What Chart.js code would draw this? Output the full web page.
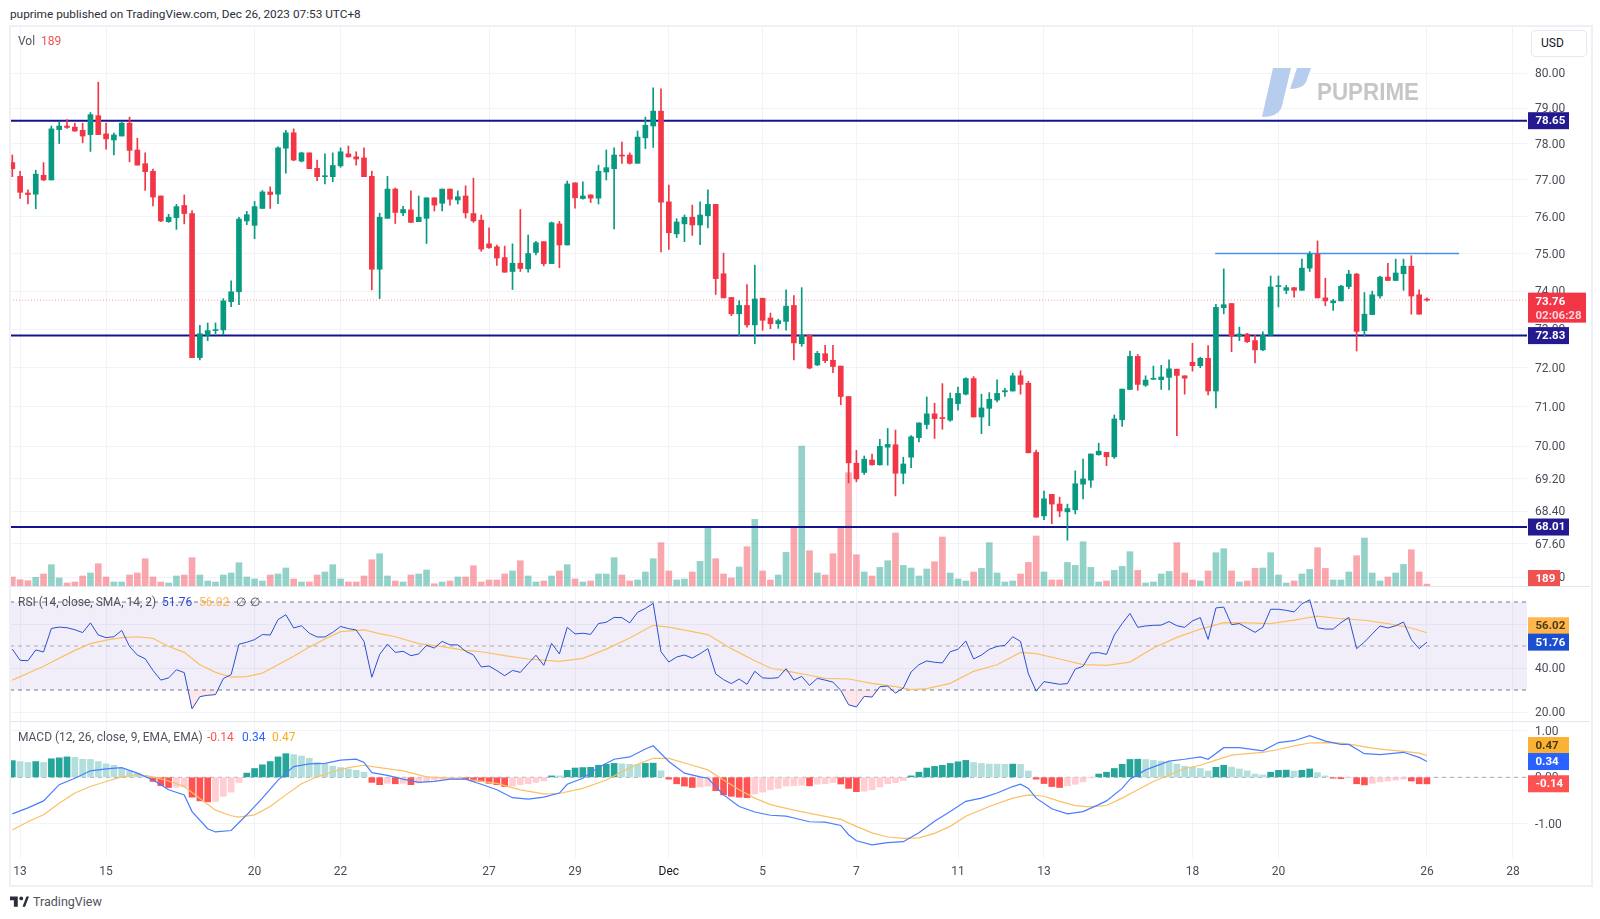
<!DOCTYPE html>
<html lang="en">
<head>
<meta charset="UTF-8">
<title>puprime chart</title>
<script src="https://cdn.jsdelivr.net/npm/chart.js@4.4.0/dist/chart.umd.min.js"></script>
<style>
  html, body { margin: 0; padding: 0; background: #fff; width: 1600px; height: 919px; overflow: hidden; font-family: Roboto, sans-serif; }
  .pane { position: absolute; left: 10px; width: 1580px; }
  .abs { position: absolute; white-space: pre; font-size: 12px; line-height: 14px; color: #50535e; }
  .frame { position: absolute; left: 9px; top: 25px; width: 1580px; height: 858px; border: 2px solid #eef0f6; box-sizing: content-box; pointer-events: none; }
  .sep { position: absolute; left: 10px; width: 1580px; height: 1px; background: #e3e6ef; }
</style>
</head>
<body>
<div class="pane" style="top:26px;height:560px"><canvas id="mainChart"></canvas></div>
<div class="pane" style="top:587px;height:134px"><canvas id="rsiChart"></canvas></div>
<div class="pane" style="top:722px;height:163px"><canvas id="macdChart"></canvas></div>
<div class="sep" style="top:586px"></div>
<div class="sep" style="top:721px"></div>
<div class="frame"></div>

<div class="abs" style="left:10px;top:7px;color:#2a2e39;font-size:11.8px">puprime published on TradingView.com, Dec 26, 2023 07:53 UTC+8</div>
<div class="abs" style="left:18px;top:34px">Vol  <span style="color:#ef5350">189</span></div>
<div class="abs" style="left:18px;top:595px">RSI (14, close, SMA, 14, 2)</div>
<div class="abs" style="left:162px;top:595px;color:#2950d0">51.76</div>
<div class="abs" style="left:199px;top:595px;color:#ffb74d">56.02</div>
<div class="abs" style="left:236px;top:595px">∅</div>
<div class="abs" style="left:250px;top:595px">∅</div>
<div class="abs" style="left:18px;top:730px">MACD (12, 26, close, 9, EMA, EMA)</div>
<div class="abs" style="left:207px;top:730px;color:#ff5252">-0.14</div>
<div class="abs" style="left:242px;top:730px;color:#2962ff">0.34</div>
<div class="abs" style="left:272px;top:730px;color:#f9a825">0.47</div>

<div class="abs" style="left:1531px;top:30px;width:54px;height:25px;border:1px solid #e6e9f1;border-radius:4px;background:#fff;color:#131722;line-height:25px;text-indent:9px">USD</div>

<svg style="position:absolute;left:1255px;top:60px" width="175" height="65" viewBox="1255 60 175 65">
  <path d="M1273 68 L1291 68 L1282 106 Q1279 117 1262 117 Z" fill="#b7cdee"/>
  <path d="M1297 68 L1311 68 L1306 82 Q1303 89 1290 89 Z" fill="#b7cdee"/>
  <text x="1317" y="100" font-family="Liberation Sans, Arial, sans-serif" font-weight="700" font-size="24" fill="#c6c6c6" textLength="102" lengthAdjust="spacingAndGlyphs">PUPRIME</text>
</svg>

<svg style="position:absolute;left:10px;top:896px" width="19" height="12" viewBox="0 0 22 13">
  <path d="M0 0 H9 V12 H4.5 V4.5 H0 Z M14.5 12 L19 0 H22 L17.5 12 Z" fill="#2a2e39"/>
  <circle cx="13" cy="2.4" r="2.2" fill="#2a2e39"/>
</svg>
<div class="abs" style="left:33px;top:894px;font-size:12.5px;line-height:16px;color:#50535e">TradingView</div>

<script>
// OHLC of the 4h candles, left to right
const opens = [
  77.48,77.10,76.64,76.61,77.13,77.00,78.40,78.50,78.47,78.38,
  78.26,78.79,78.28,78.11,78.22,78.58,77.83,77.45,77.24,76.56,
  75.86,75.97,76.30,76.08,72.26,72.84,72.96,72.98,73.72,73.98,
  75.88,75.76,76.22,76.67,76.61,77.88,78.31,77.52,77.75,77.32,
  77.09,77.09,77.39,77.72,77.64,77.61,77.10,74.58,75.95,76.75,
  76.10,76.18,75.86,75.95,76.51,76.36,76.75,76.45,76.56,76.08,
  75.90,75.26,75.18,74.89,74.52,74.74,74.59,75.03,75.32,74.73,
  75.80,75.23,76.92,76.49,76.59,76.50,77.22,77.31,77.69,77.69,
  77.46,78.17,78.50,78.92,76.40,75.53,75.80,75.98,75.77,76.02,
  76.33,74.46,73.83,73.40,73.62,73.11,73.81,73.29,73.14,73.20,
  73.62,72.62,72.84,72.07,72.36,72.19,72.04,71.26,69.58,69.35,
  69.66,69.54,69.98,70.04,69.33,69.73,70.22,70.55,70.82,70.71,
  70.66,71.08,71.32,71.72,70.74,70.96,71.17,71.38,71.40,71.79,
  71.60,69.85,68.28,68.81,68.57,68.38,68.43,69.06,69.16,69.79,
  69.85,69.74,70.67,71.44,72.29,71.55,71.70,71.69,71.75,71.96,
  71.79,72.14,72.05,72.24,71.40,73.56,73.67,72.82,72.87,72.70,
  72.46,72.84,74.12,74.02,74.09,74.02,74.61,74.98,73.82,73.69,
  73.74,74.12,74.45,72.96,73.38,73.87,74.37,74.28,74.46,74.66,
  73.90,73.78
];
const highs = [
  77.69,77.24,76.73,77.27,77.48,78.50,78.62,78.68,78.58,78.58,
  78.88,79.74,78.58,78.30,78.62,78.75,78.16,77.75,77.30,76.56,
  76.06,76.33,76.59,76.16,73.10,73.16,73.16,73.80,74.27,75.98,
  76.14,76.41,76.71,76.81,77.92,78.38,78.42,77.77,77.75,77.55,
  77.72,77.75,77.89,77.94,77.78,77.89,77.24,76.09,77.10,76.78,
  76.28,76.70,76.56,76.51,76.51,76.75,76.75,76.70,76.84,77.05,
  76.04,75.69,75.23,75.20,75.26,76.19,75.50,75.33,75.32,75.85,
  75.87,76.97,76.92,76.95,76.59,77.41,77.83,77.89,78.05,77.75,
  78.36,78.75,79.58,79.55,76.86,75.94,76.04,76.31,76.40,76.73,
  76.33,75.01,73.83,73.75,74.17,74.69,73.81,73.42,73.26,74.03,
  73.88,74.09,72.84,72.42,72.58,72.58,72.04,71.26,69.90,69.76,
  69.81,70.18,70.45,70.41,69.73,70.27,70.59,71.25,71.09,71.59,
  71.35,71.50,71.74,71.77,71.32,71.36,71.69,71.47,71.86,71.92,
  71.65,69.91,68.89,68.81,68.74,68.57,69.39,69.68,69.81,70.08,
  69.85,70.79,71.45,72.43,72.34,71.79,72.04,72.06,72.20,71.96,
  71.79,72.63,72.27,72.57,73.65,74.59,73.67,73.05,72.89,72.84,
  72.93,74.40,74.40,74.15,74.09,74.85,75.05,75.34,74.34,73.78,
  74.15,74.55,74.47,73.96,74.00,74.40,74.74,74.85,74.85,74.94,
  74.03,73.82
];
const lows = [
  77.09,76.49,76.34,76.21,76.98,77.00,78.01,78.43,78.35,78.03,
  77.79,78.26,77.85,77.69,78.22,77.50,77.41,76.71,76.29,75.86,
  75.84,75.65,75.80,72.26,72.20,72.70,72.88,72.85,73.59,73.64,
  75.78,75.40,76.22,76.22,76.35,77.19,77.53,77.50,77.31,76.98,
  76.89,76.95,77.35,77.63,77.41,77.09,74.03,73.80,75.95,75.81,
  76.02,75.84,75.86,75.27,76.15,76.15,76.31,76.34,75.96,75.84,
  75.06,75.14,74.68,74.50,74.04,74.52,74.50,74.96,74.67,74.73,
  74.62,75.23,76.23,76.47,76.38,76.34,77.00,75.66,77.46,77.44,
  77.46,77.87,77.90,75.04,75.11,75.43,75.32,75.49,75.24,75.69,
  73.91,73.82,73.35,72.83,73.05,72.62,72.97,73.01,73.02,72.97,
  72.20,72.55,71.97,72.05,72.13,71.87,71.05,69.09,69.12,69.30,
  69.53,69.53,69.53,68.77,69.07,69.47,70.11,70.44,70.20,70.43,
  70.63,70.91,71.30,70.74,70.32,70.52,71.12,71.26,71.40,71.32,
  69.84,68.25,68.19,68.09,68.26,67.69,68.33,68.70,68.98,69.78,
  69.52,69.70,70.50,71.44,71.42,71.52,71.70,71.44,71.43,70.27,
  71.32,71.91,72.00,71.30,70.97,73.40,72.41,72.70,72.65,72.12,
  72.44,72.84,73.58,73.93,73.84,74.02,74.52,73.82,73.61,73.49,
  73.74,74.06,72.43,72.82,73.38,73.81,74.28,74.28,74.02,73.39,
  73.39,73.73
];
const closes = [
  77.31,76.66,76.60,77.16,77.00,78.42,78.50,78.46,78.36,78.22,
  78.82,78.26,78.14,78.25,78.58,77.82,77.41,77.23,76.53,75.88,
  75.98,76.27,76.08,72.26,72.88,72.96,72.98,73.74,73.98,75.93,
  76.05,76.27,76.67,76.60,77.89,78.31,77.55,77.75,77.31,77.09,
  77.11,77.40,77.78,77.64,77.58,77.09,74.58,75.98,76.75,76.11,
  76.19,75.84,75.98,76.51,76.31,76.75,76.47,76.54,76.10,75.88,
  75.12,75.16,74.88,74.50,74.74,74.60,75.00,75.29,74.73,75.83,
  75.23,76.89,76.51,76.56,76.50,77.24,77.34,77.69,77.66,77.46,
  78.19,78.52,78.92,76.39,75.56,75.85,75.98,75.77,76.04,76.33,
  74.33,73.82,73.40,73.62,73.11,73.79,73.23,73.14,73.22,73.60,
  72.64,72.84,71.99,72.37,72.18,72.03,71.26,69.59,69.19,69.68,
  69.54,70.00,70.05,69.33,69.56,70.24,70.59,70.82,70.70,70.70,
  71.21,71.34,71.72,70.74,70.97,71.19,71.34,71.41,71.79,71.57,
  69.84,68.25,68.70,68.57,68.40,68.46,69.07,69.19,69.81,69.88,
  69.74,70.69,71.45,72.29,71.57,71.68,71.72,71.76,71.97,71.80,
  71.73,72.05,72.24,71.40,73.57,73.64,72.82,72.87,72.67,72.46,
  72.84,74.11,74.14,74.09,74.02,74.61,74.98,73.82,73.74,73.74,
  74.13,74.45,72.94,73.39,73.90,74.37,74.28,74.48,74.66,73.87,
  73.39,73.76
];
const volumes = [
  900,630,530,870,1200,2130,800,300,400,1000,
  1300,2230,900,400,400,1100,1300,2730,900,400,
  300,1000,1100,2830,1100,500,400,1100,1300,2330,
  900,700,500,1100,1200,1800,700,400,400,1100,
  1400,2130,700,400,400,1000,2630,3230,1000,500,
  400,1100,1200,1600,230,400,500,900,900,2030,
  400,600,600,1200,1500,2530,1000,400,500,1000,
  1500,2130,700,400,500,1200,1200,2830,1100,500,
  600,1400,2730,4330,1500,600,700,1400,2460,5960,
  2730,1200,800,1900,3930,6660,1500,600,1100,3360,
  5960,14000,3530,1300,1100,3230,5760,11330,3130,1400,
  1000,1860,2530,5300,2060,1800,1000,1700,2430,4900,
  1300,700,500,1400,1760,4330,1300,400,500,1200,
  2360,5000,1400,600,600,2360,2060,4430,1860,400,
  500,1560,1960,3430,1560,300,400,1200,1460,4330,
  1300,600,500,1500,3330,3730,1500,400,500,1760,
  1800,3330,1100,300,500,1200,1660,3830,1760,600,
  600,1400,3030,4800,1300,500,900,1300,2160,3630,
  1400,189
];
const rsiValues = [
  48.6,43.5,43.3,48.2,47.3,58.0,58.6,58.3,57.4,56.1,
  60.5,55.0,53.8,54.2,57.1,49.8,45.9,44.2,38.9,34.5,
  35.5,39.2,37.9,21.4,27.0,27.6,27.9,35.2,37.0,50.8,
  51.7,52.9,55.2,55.0,62.0,64.2,58.2,59.2,55.8,54.1,
  54.1,56.2,58.9,57.9,57.3,52.1,35.8,46.1,50.9,47.1,
  47.6,45.6,46.4,50.3,49.1,52.1,50.5,50.5,47.6,45.9,
  40.5,40.9,38.8,36.5,38.9,38.0,42.0,45.8,41.2,51.2,
  46.4,58.5,55.5,55.8,55.3,60.2,60.8,63.0,62.9,60.5,
  65.3,67.1,69.4,47.4,42.7,45.0,45.9,44.5,46.5,48.8,
  37.3,34.7,32.9,35.0,32.6,38.5,35.5,35.3,35.6,39.7,
  34.5,36.2,32.1,35.3,34.5,33.6,29.8,23.3,22.3,27.1,
  26.8,31.5,31.8,28.6,30.9,38.2,41.5,43.2,42.6,42.3,
  47.4,48.5,52.3,44.1,45.9,48.5,49.8,50.3,54.2,52.1,
  37.4,29.5,33.8,33.2,32.6,32.9,39.5,40.8,46.8,47.0,
  46.2,55.0,60.2,64.8,58.5,59.1,59.4,59.5,61.1,59.2,
  58.5,61.4,62.9,53.0,67.3,67.7,59.7,60.2,58.2,56.2,
  58.5,66.7,66.7,66.2,65.5,69.2,71.0,58.3,57.7,57.7,
  60.6,63.0,48.8,51.8,55.5,59.1,58.2,59.2,60.9,52.9,
  48.8,51.76
];
// the smoothed lines were read at the bars listed in the *Bars arrays
const rsiMaBars = [
  0,4,8,10,12,14,16,18,20,22,24,26,28,30,32,36,38,40,42,45,
  47,49,52,55,58,60,63,66,70,73,76,79,82,84,87,89,92,95,97,100,
  102,104,107,110,113,115,117,120,123,126,129,131,134,137,140,143,146,149,152,155,
  158,161,164,167,170,173,176,179,181
];
const rsiMaValues = [
  34.5,40.8,48.0,51.1,52.7,53.8,54.2,53.5,49.8,47.1,41.5,38.0,35.9,36.1,37.7,45.3,49.5,53.2,56.5,57.3,
  55.6,54.2,51.1,49.7,48.0,47.4,45.6,44.1,43.0,44.4,48.6,53.6,59.4,58.6,56.5,55.2,48.8,43.3,40.0,38.0,
  36.7,35.3,35.0,33.0,31.5,30.2,30.6,33.0,38.5,41.5,47.1,46.5,44.1,41.5,41.2,42.7,49.1,53.9,57.7,60.6,
  60.5,60.2,61.8,63.6,62.4,61.7,60.2,58.2,56.02
];
const macdHist = [
  0.36,0.34,0.32,0.34,0.32,0.40,0.42,0.44,0.43,0.39,
  0.385,0.34,0.29,0.26,0.19,0.14,0.09,0.04,-0.09,-0.18,
  -0.22,-0.215,-0.21,-0.43,-0.51,-0.53,-0.52,-0.41,-0.32,-0.11,
  0.09,0.19,0.27,0.34,0.44,0.51,0.49,0.46,0.41,0.32,
  0.28,0.24,0.21,0.18,0.15,0.11,-0.11,-0.16,-0.13,-0.14,
  -0.13,-0.16,-0.12,-0.09,-0.06,-0.04,-0.02,-0.01,-0.04,-0.08,
  -0.09,-0.13,-0.16,-0.20,-0.19,-0.16,-0.14,-0.11,-0.08,0.03,
  0.03,0.15,0.20,0.21,0.215,0.26,0.28,0.30,0.29,0.28,
  0.275,0.30,0.305,0.14,-0.04,-0.14,-0.19,-0.22,-0.21,-0.19,
  -0.29,-0.38,-0.41,-0.43,-0.44,-0.36,-0.32,-0.27,-0.24,-0.19,
  -0.18,-0.17,-0.185,-0.15,-0.14,-0.115,-0.145,-0.24,-0.31,-0.30,
  -0.27,-0.21,-0.14,-0.115,-0.07,0.03,0.11,0.20,0.235,0.26,
  0.30,0.335,0.365,0.32,0.30,0.285,0.284,0.28,0.285,0.28,
  0.135,-0.04,-0.135,-0.20,-0.22,-0.185,-0.15,-0.10,-0.005,0.07,
  0.11,0.19,0.28,0.385,0.39,0.385,0.365,0.35,0.33,0.285,
  0.235,0.215,0.19,0.135,0.215,0.26,0.22,0.18,0.14,0.07,
  0.05,0.11,0.15,0.155,0.135,0.15,0.18,0.10,0.03,-0.02,
  -0.03,-0.005,-0.14,-0.165,-0.13,-0.10,-0.08,-0.06,-0.04,-0.08,
  -0.14,-0.142
];
const macdBars = [
  0,2,4,6,8,10,12,14,16,18,20,22,23,25,26,28,30,32,34,36,38,40,42,44,45,46,48,50,52,54,
  56,58,60,62,64,66,68,70,71,73,75,77,79,81,82,84,86,88,89,91,93,95,97,99,100,102,104,106,107,108,
  110,112,114,116,118,120,122,124,126,128,129,130,131,133,135,137,139,140,142,143,145,148,150,152,153,155,157,160,162,164,
  166,168,170,171,173,175,178,180,181
];
const macdValues = [
  -0.79,-0.66,-0.51,-0.16,-0.02,0.14,0.18,0.21,0.09,-0.06,-0.27,-0.38,-0.74,-1.11,-1.18,-1.15,-0.81,-0.45,-0.06,0.23,0.29,0.30,0.37,0.39,0.32,0.10,0.04,-0.04,-0.11,-0.09,
  -0.04,-0.04,-0.15,-0.27,-0.44,-0.47,-0.43,-0.34,-0.15,-0.02,0.21,0.39,0.44,0.61,0.68,0.34,0.09,0.01,-0.02,-0.38,-0.63,-0.75,-0.82,-0.84,-0.88,-0.96,-0.97,-1.04,-1.24,-1.37,
  -1.46,-1.41,-1.39,-1.20,-0.95,-0.74,-0.52,-0.45,-0.34,-0.20,-0.15,-0.24,-0.45,-0.68,-0.79,-0.74,-0.59,-0.51,-0.24,-0.04,0.16,0.35,0.39,0.44,0.39,0.64,0.64,0.57,0.75,0.79,
  0.90,0.78,0.71,0.71,0.51,0.49,0.54,0.43,0.34
];
const signalBars = [
  0,2,4,6,8,10,12,14,16,18,20,22,24,26,28,29,31,33,35,37,39,41,43,45,47,50,53,56,59,62,
  65,68,70,73,76,78,80,82,84,87,89,91,93,95,97,100,103,106,108,110,112,114,116,118,120,122,125,128,130,132,
  134,136,138,140,142,144,146,148,150,152,154,156,158,160,162,164,166,168,170,172,174,176,178,180,181
];
const signalValues = [
  -1.14,-0.96,-0.81,-0.56,-0.34,-0.20,-0.09,0.01,0.06,0.01,-0.08,-0.20,-0.46,-0.71,-0.83,-0.86,-0.81,-0.63,-0.38,-0.14,0.01,0.12,0.21,0.26,0.21,0.14,0.01,-0.02,-0.06,-0.13,
  -0.27,-0.36,-0.35,-0.24,-0.06,0.12,0.28,0.41,0.41,0.26,0.16,-0.06,-0.27,-0.45,-0.59,-0.71,-0.81,-0.91,-1.06,-1.20,-1.29,-1.32,-1.31,-1.21,-1.06,-0.84,-0.63,-0.45,-0.38,-0.41,
  -0.52,-0.61,-0.64,-0.61,-0.45,-0.27,-0.09,0.05,0.19,0.26,0.37,0.48,0.51,0.54,0.60,0.68,0.74,0.75,0.74,0.69,0.63,0.59,0.56,0.52,0.47
];
const dateTickBars = [1,12,31,42,61,72,84,96,108,121,132,151,162,181,192];
const dateTickLabels = ['13','15','20','22','27','29','Dec','5','7','11','13','18','20','26','28'];
const priceTicks = [80,79,78,77,76,75,74,73,72,71,70,69.2,68.4,67.6,66.8];
const rsiTicks = [60,40,20];
const macdTicks = [1,0,-1];
const levelPrices = [78.65,72.83,68.01];
const resistancePrice = 75.0;
const resistanceBars = [153.9,185.1];
const lastPrice = 73.76;
const rsiLevels = [70,50,30];

const GREEN = '#089981', RED = '#f23645', GRID = '#f0f3fa', AXIS_TEXT = '#4a4d57';
const X_MIN = -0.294, X_MAX = 193.8;
const AXIS_FONT = { family: 'Roboto', size: 12 };

// labels that sit on the price axis, with their pixel offset from the value
function tagPlugin(tags) {
  return {
    id: 'axisTags',
    afterDraw(chart) {
      const { ctx } = chart;
      tags.forEach(t => {
        const scale = chart.scales.y;
        const cy = t.center !== undefined ? t.center : scale.getPixelForValue(t.value) + (t.shift || 0);
        const w = t.w || 41, h = t.sub ? 30 : 17;
        const top = t.sub ? cy - 7.5 : cy - h / 2;
        ctx.save();
        ctx.fillStyle = t.bg;
        ctx.fillRect(1518, top, w, h);
        ctx.fillStyle = t.color || '#fff';
        ctx.font = 'bold 11.5px Roboto';
        ctx.textBaseline = 'middle';
        ctx.fillText(t.text, 1525.5, top + 9);
        if (t.sub) {
          ctx.fillStyle = '#ffd5d9';
          ctx.fillText(t.sub, 1525.5, top + 23);
        }
        ctx.restore();
      });
    }
  };
}

const line = (points, color, width, dash, extra) => Object.assign({
  type: 'line', data: points, borderColor: color, borderWidth: width, borderDash: dash || [],
  pointRadius: 0, tension: 0, fill: false, order: 2
}, extra || {});

const flat = (value, from, to) => [{ x: from === undefined ? X_MIN : from, y: value }, { x: to === undefined ? X_MAX : to, y: value }];
const zip = (bars, values) => bars.map((b, i) => ({ x: b, y: values[i] }));

function xScale(showLabels) {
  return {
    type: 'linear', min: X_MIN, max: X_MAX, offset: false,
    grid: { color: GRID, offset: false, drawTicks: false },
    border: { display: false },
    afterBuildTicks: s => { s.ticks = dateTickBars.map(v => ({ value: v })); },
    afterFit: s => {
      if (showLabels) s.height = 27;
      s.paddingLeft = 0; s.paddingRight = 0;
    },
    ticks: {
      display: showLabels, autoSkip: false, maxRotation: 0, padding: 7, font: AXIS_FONT,
      color: c => c.tick && c.tick.value === 84 ? '#131722' : AXIS_TEXT,
      callback: v => dateTickLabels[dateTickBars.indexOf(v)]
    }
  };
}

function yScale(type, min, max, tickValues, format) {
  return {
    type, position: 'right', min, max, bounds: 'data',
    grid: { color: GRID, drawTicks: false },
    border: { display: false },
    afterBuildTicks: s => { s.ticks = tickValues.map(v => ({ value: v })); },
    afterFit: s => { s.width = 63; s.paddingTop = 0; s.paddingBottom = 0; },
    ticks: { autoSkip: false, padding: 8, labelOffset: 1, crossAlign: 'near', font: AXIS_FONT, color: AXIS_TEXT, callback: format }
  };
}

function baseOptions(scales) {
  return {
    responsive: true, maintainAspectRatio: false, animation: false, devicePixelRatio: 1,
    layout: { padding: 0 },
    events: [],
    plugins: { legend: { display: false }, tooltip: { enabled: false } },
    scales
  };
}

const candleColors = opens.map((o, i) => closes[i] >= o ? GREEN : RED);
const volumeColors = opens.map((o, i) => closes[i] >= o ? 'rgba(8,153,129,0.44)' : 'rgba(242,54,69,0.44)');
const barBase = { type: 'bar', grouped: false, barPercentage: 1, categoryPercentage: 1 };

new Chart(document.getElementById('mainChart'), {
  type: 'bar',
  data: {
    datasets: [
      Object.assign({}, barBase, {
        data: opens.map((o, i) => ({ x: i, y: [o, closes[i]] })),
        backgroundColor: candleColors, maxBarThickness: 5, minBarLength: 1, order: 0
      }),
      Object.assign({}, barBase, {
        data: highs.map((h, i) => ({ x: i, y: [lows[i], h] })),
        backgroundColor: candleColors, maxBarThickness: 1, order: 1
      }),
      Object.assign({}, barBase, {
        data: volumes.map((v, i) => ({ x: i, y: v })),
        backgroundColor: volumeColors, maxBarThickness: 6, yAxisID: 'yVol', order: 4
      }),
      ...levelPrices.map(p => line(flat(p), '#14148c', 2)),
      line(flat(resistancePrice, resistanceBars[0], resistanceBars[1]), '#4a90f0', 1.5),
      line(flat(lastPrice), 'rgba(242,54,69,0.5)', 1, [1, 2], { order: 3 })
    ]
  },
  options: baseOptions({
    x: xScale(false),
    y: yScale('logarithmic', 66.59, 81.36, priceTicks, v => Number(v).toFixed(2)),
    yVol: { type: 'linear', display: false, min: 0, max: 56000, grid: { display: false } }
  }),
  plugins: [tagPlugin([
    { value: 78.65, text: '78.65', bg: '#231a8f' },
    { value: 72.83, text: '72.83', bg: '#231a8f' },
    { value: 68.01, text: '68.01', bg: '#231a8f' },
    { value: 73.76, text: '73.76', sub: '02:06:28', bg: '#f23645', w: 58 },
    { center: 552.5, text: '189', bg: '#ef5350', w: 32 }
  ])]
});

new Chart(document.getElementById('rsiChart'), {
  type: 'line',
  data: {
    datasets: [
      line(flat(rsiLevels[0]), 'transparent', 0, [], { fill: { target: { value: rsiLevels[2] }, above: 'rgba(126,87,194,0.1)', below: 'transparent' }, order: 5 }),
      line(flat(rsiLevels[0]), '#787b86', 1, [4, 4]),
      line(flat(rsiLevels[1]), 'rgba(120,123,134,0.6)', 1, [4, 4]),
      line(flat(rsiLevels[2]), '#787b86', 1, [4, 4]),
      line(zip(rsiMaBars, rsiMaValues), '#fbc064', 1.2, [], { order: 1 }),
      line(rsiValues.map((v, i) => ({ x: i, y: v })), '#2950d0', 1, [], {
        order: 0, fill: { target: { value: rsiLevels[2] }, above: 'transparent', below: 'rgba(242,54,69,0.12)' }
      })
    ]
  },
  options: baseOptions({
    x: xScale(false),
    y: yScale('linear', 15.91, 76.82, rsiTicks, v => Number(v).toFixed(2))
  }),
  plugins: [tagPlugin([
    { value: 56.02, shift: -7, text: '56.02', bg: '#ffb74d', color: '#4a3a10' },
    { value: 51.76, text: '51.76', bg: '#1c4fd0' }
  ])]
});

const histColors = macdHist.map((h, i) => {
  const prev = i ? macdHist[i - 1] : h;
  if (h >= 0) return h > prev || i === 0 ? '#26a69a' : '#b2dfdb';
  return h < prev ? '#ff5252' : '#ffcdd2';
});

new Chart(document.getElementById('macdChart'), {
  type: 'bar',
  data: {
    datasets: [
      Object.assign({}, barBase, {
        data: macdHist.map((h, i) => ({ x: i, y: h })),
        backgroundColor: histColors, maxBarThickness: 6, order: 3
      }),
      line(flat(0), 'rgba(120,123,134,0.6)', 1, [4, 4], { order: 4 }),
      line(zip(signalBars, signalValues), '#fbc064', 1.2, [], { order: 1 }),
      line(zip(macdBars, macdValues), '#4a7dff', 1.2, [], { order: 0 })
    ]
  },
  options: baseOptions({
    x: xScale(true),
    y: yScale('linear', -1.743, 1.194, macdTicks, v => Number(v).toFixed(2))
  }),
  plugins: [tagPlugin([
    { value: 0.47, shift: -10, text: '0.47', bg: '#f9b233', color: '#4a3a10' },
    { value: 0.34, text: '0.34', bg: '#2962ff' },
    { value: -0.14, text: '-0.14', bg: '#ff5252' }
  ])]
});
</script>
</body>
</html>
